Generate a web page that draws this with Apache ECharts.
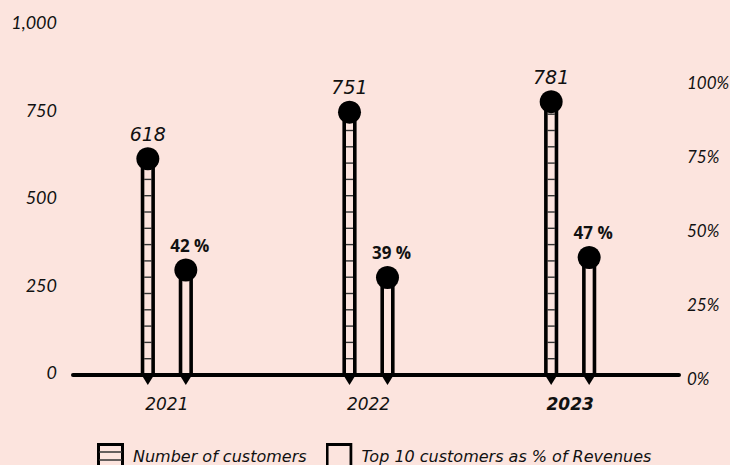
<!DOCTYPE html>
<html>
<head>
<meta charset="utf-8">
<script src="https://cdn.jsdelivr.net/npm/echarts@6/dist/echarts.min.js"></script>
<style>
  html, body { margin: 0; padding: 0; background: #fce4de; }
  #chart { width: 730px; height: 465px; }
</style>
</head>
<body>
<div id="chart"></div>
<script>
// Customer count and concentration of revenue per fiscal year
const years = ['2021', '2022', '2023'];
const highlightYear = '2023';
const customers = [618, 751, 781];
const top10Share = [42, 39, 47];          // % of revenues
const customerTicks = [0, 250, 500, 750, 1000];
const shareTicks = [0, 25, 50, 75, 100];

const seriesNames = ['Number of customers', 'Top 10 customers as % of Revenues'];

const INK = '#000';
const BG = '#fce4de';
const textFont = '"DejaVu Sans", Verdana, sans-serif';
const pctFont = '"Open Sans", "Noto Sans", sans-serif';
const axisFont = 'Lato, "Open Sans", sans-serif';

// Legend swatches: striped box for the customer stems, empty box for the share stems
function svgIcon(inner) {
  const svg = "<svg xmlns='http://www.w3.org/2000/svg' width='27' height='26' viewBox='0 0 27 26'>" +
    "<rect x='1.5' y='1.5' width='24' height='32' fill='none' stroke='black' stroke-width='3'/>" + inner + "</svg>";
  return 'image://data:image/svg+xml;charset=utf-8,' + encodeURIComponent(svg);
}
const hatchedIcon = svgIcon("<path d='M2 9H25M2 17H25M2 25H25' stroke='#333' stroke-width='1.4'/>");
const plainIcon = svgIcon('');

// One stem: outlined bar from the baseline up to the value, a dot on top,
// a small pointer under the baseline and the value written above the dot.
function makeStem(opts) {
  return function (params, api) {
    const idx = api.value(0);
    const val = api.value(1);
    const top = api.coord([idx, val]);
    const base = api.coord([idx, 0]);
    const x = top[0] + opts.offset;
    const yTop = top[1];
    const yBase = base[1];
    const children = [];

    if (opts.hatched) {
      for (let y = yBase - 16.3; y > yTop + 4; y -= 16.3) {
        children.push({
          type: 'line',
          shape: { x1: x - 3.6, y1: y, x2: x + 3.6, y2: y },
          style: { stroke: '#333', lineWidth: 1.4 }
        });
      }
    }
    children.push({
      type: 'rect',
      shape: { x: x - 5.3, y: yTop, width: 10.6, height: yBase - yTop },
      style: { fill: 'none', stroke: INK, lineWidth: 3.6 }
    });
    children.push({
      type: 'polygon',
      shape: { points: [[x - 6.2, yBase], [x + 6.2, yBase], [x, yBase + 10]] },
      style: { fill: INK }
    });
    children.push({
      type: 'circle',
      shape: { cx: x, cy: yTop, r: 11.5 },
      style: { fill: INK }
    });
    children.push({
      type: 'text',
      style: {
        text: opts.format(val),
        x: x + opts.labelDx,
        y: yTop - 25,
        align: 'center',
        verticalAlign: 'middle',
        fill: '#111',
        font: opts.font
      }
    });
    return { type: 'group', children: children };
  };
}

const chart = echarts.init(document.getElementById('chart'), null, { renderer: 'svg' });

const hiddenAxis = { show: false };

chart.setOption({
  backgroundColor: BG,
  animation: false,
  grid: [
    // plotting area for both stem series
    { left: 66, width: 605, top: 25, height: 350, outerBoundsMode: 'none' },
    // baseline rule
    { left: 73, width: 606, top: 25, height: 350, outerBoundsMode: 'none' },
    // percentage labels on the right
    { left: 73, width: 606, top: 23.4, height: 354.6, outerBoundsMode: 'none' },
    // customer-count labels on the left
    { left: 66, width: 605, top: 22, height: 350, outerBoundsMode: 'none' }
  ],
  legend: {
    left: 97,
    top: 443,
    padding: 0,
    itemWidth: 27,
    itemHeight: 26,
    itemGap: 19,
    selectedMode: false,
    textStyle: {
      fontFamily: textFont,
      fontStyle: 'italic',
      fontSize: 16,
      color: '#111',
      padding: [0, 0, 2, 4]
    },
    data: [
      { name: seriesNames[0], icon: hatchedIcon },
      { name: seriesNames[1], icon: plainIcon }
    ]
  },
  xAxis: [
    {
      type: 'category',
      gridIndex: 0,
      data: years.map(y => y === highlightYear
        ? { value: y, textStyle: { fontWeight: 'bold' } }
        : y),
      axisLine: { show: false },
      axisTick: { show: false },
      axisLabel: {
        margin: 20,
        fontFamily: textFont,
        fontStyle: 'italic',
        fontSize: 17,
        color: '#111'
      }
    },
    {
      type: 'category',
      gridIndex: 1,
      data: years,
      axisLine: { show: true, lineStyle: { color: INK, width: 4 } },
      axisTick: { show: false },
      axisLabel: { show: false }
    },
    Object.assign({ type: 'category', gridIndex: 2, data: years }, hiddenAxis),
    Object.assign({ type: 'category', gridIndex: 3, data: years }, hiddenAxis)
  ],
  yAxis: [
    {
      // customer count, scale used by the customer stems
      type: 'value',
      gridIndex: 0,
      min: customerTicks[0],
      max: customerTicks[customerTicks.length - 1],
      show: false
    },
    {
      // share of revenues, scale used by the share stems
      type: 'value',
      gridIndex: 0,
      min: 0,
      max: 140,
      show: false
    },
    Object.assign({ type: 'value', gridIndex: 1 }, hiddenAxis),
    {
      // share of revenues, right-hand labels
      type: 'value',
      gridIndex: 2,
      position: 'right',
      min: shareTicks[0],
      max: 120,
      interval: shareTicks[1] - shareTicks[0],
      splitLine: { show: false },
      axisLine: { show: false },
      axisTick: { show: false },
      axisLabel: {
        margin: 8,
        showMaxLabel: false,
        fontFamily: axisFont,
        fontStyle: 'italic',
        fontSize: 17,
        color: '#111',
        formatter: v => (shareTicks.indexOf(v) >= 0 ? v + '%' : '')
      }
    },
    {
      // customer count, left-hand labels
      type: 'value',
      gridIndex: 3,
      min: customerTicks[0],
      max: customerTicks[customerTicks.length - 1],
      interval: customerTicks[1] - customerTicks[0],
      splitLine: { show: false },
      axisLine: { show: false },
      axisTick: { show: false },
      axisLabel: {
        margin: 9,
        fontFamily: axisFont,
        fontStyle: 'italic',
        fontSize: 18,
        color: '#111',
        formatter: v => v.toLocaleString('en-US')
      }
    }
  ],
  series: [
    {
      name: seriesNames[0],
      type: 'custom',
      xAxisIndex: 0,
      yAxisIndex: 0,
      clip: false,
      z: 5,
      itemStyle: { color: INK },
      encode: { x: 0, y: 1 },
      data: customers.map((v, i) => [i, v]),
      renderItem: makeStem({
        offset: -19,
        hatched: true,
        labelDx: 0,
        font: 'italic 19px ' + textFont,
        format: v => String(v)
      })
    },
    {
      name: seriesNames[1],
      type: 'custom',
      xAxisIndex: 0,
      yAxisIndex: 1,
      clip: false,
      z: 5,
      itemStyle: { color: INK },
      encode: { x: 0, y: 1 },
      data: top10Share.map((v, i) => [i, v]),
      renderItem: makeStem({
        offset: 19,
        hatched: false,
        labelDx: 4,
        font: 'bold 17px ' + pctFont,
        format: v => v + ' %'
      })
    }
  ]
});
</script>
</body>
</html>
